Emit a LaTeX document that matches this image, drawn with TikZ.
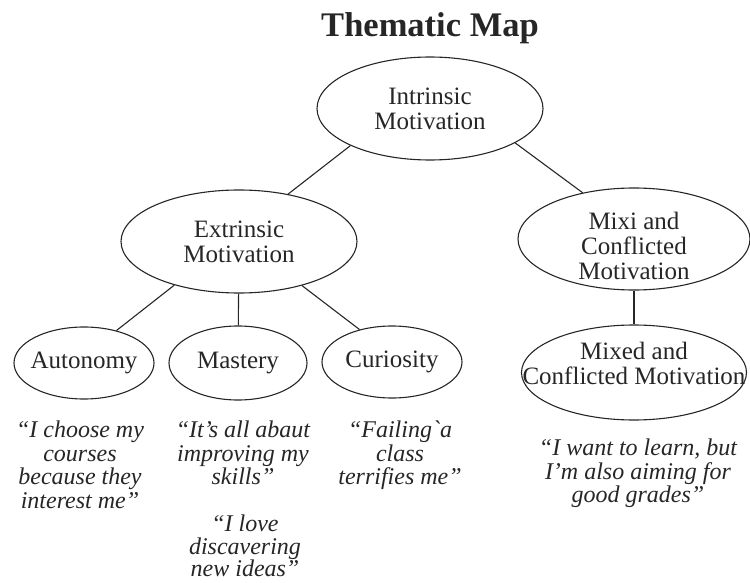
\documentclass[tikz,border=0pt]{standalone}
\usepackage{fontspec}
\setmainfont{Liberation Serif}
\usetikzlibrary{shapes.geometric}

\begin{document}
\begin{tikzpicture}[
    x=1pt, y=-1pt,
    every node/.style={font=\fontsize{25}{25}\selectfont, text=black!85},
    theme/.style={
        ellipse,
        draw=black!85,
        line width=1.1pt,
        inner sep=-60pt,
        align=center
    },
    leaf/.style={theme, minimum width=140pt, minimum height=72pt},
    quote/.style={
        font=\fontsize{24}{23.5}\selectfont\itshape,
        align=center,
        inner sep=0pt,
        anchor=north
    },
    link/.style={draw=black!85, line width=1.1pt}
]
\useasboundingbox (0,0) rectangle (750,583);

\node[font=\fontsize{34.5}{34.5}\selectfont\bfseries] (title) at (430,28) {Thematic Map};

\node[theme, minimum width=226pt, minimum height=103pt] (intr) at (430,108.5) {Intrinsic\\Motivation};
\node[theme, minimum width=236pt, minimum height=103pt] (ext) at (239,241.5) {Extrinsic\\Motivation};
\node[theme, minimum width=232pt, minimum height=102pt] (mixi) at (634,239)
    {\rule{0pt}{32pt}Mixi and\\Conflicted\\Motivation};

\node[leaf] (auto) at (84,363) {Autonomy};
\node[leaf, minimum width=138pt, minimum height=74pt] (mast) at (238,363) {Mastery};
\node[leaf] (cur) at (392,362) {Curiosity};
\node[theme, minimum width=225pt, minimum height=95pt] (mixed) at (634,372.5)
    {Mixed and\\Conflicted Motivation\rule[-18pt]{0pt}{18pt}};

\draw[link] (intr.205) -- (ext.44);
\draw[link] (intr.338) -- (mixi.138);
\draw[link] (ext.214) -- (auto.45);
\draw[link] (ext) -- (mast);
\draw[link] (ext.325) -- (cur.135);
\draw[link] (mixi) -- (mixed);

\node[quote] (q1) at (80,421) {“I choose my\\courses\\because they\\interest me”};
\node[quote] (q2) at (243,421) {“It's all abaut\\improving my\\skills”};
\node[quote, font=\fontsize{24}{22.5}\selectfont\itshape] (q3) at (245,515) {“I love\\discavering\\new ideas”};
\node[quote] (q4) at (400,421) {“Failing\textasciigrave a\\class\\terrifies me”};
\node[quote] (q5) at (638,439) {“I want to learn, but\\I'm also aiming for\\good grades”};

\end{tikzpicture}
\end{document}
